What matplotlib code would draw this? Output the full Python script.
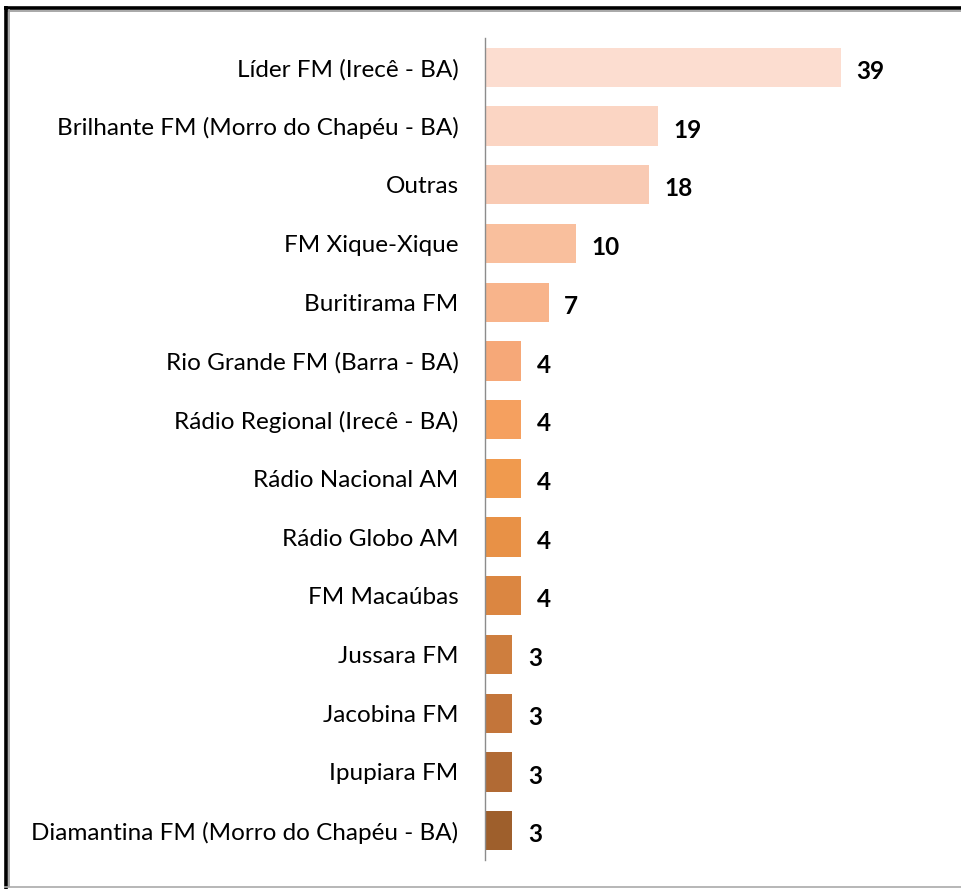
import matplotlib.pyplot as plt
from matplotlib.lines import Line2D

# Data
stations = [
    "Líder FM (Irecê - BA)",
    "Brilhante FM (Morro do Chapéu - BA)",
    "Outras",
    "FM Xique-Xique",
    "Buritirama FM",
    "Rio Grande FM (Barra - BA)",
    "Rádio Regional (Irecê - BA)",
    "Rádio Nacional AM",
    "Rádio Globo AM",
    "FM Macaúbas",
    "Jussara FM",
    "Jacobina FM",
    "Ipupiara FM",
    "Diamantina FM (Morro do Chapéu - BA)",
]
counts = [39, 19, 18, 10, 7, 4, 4, 4, 4, 4, 3, 3, 3, 3]
bar_colors = [
    "#FCDDD0", "#FBD5C3", "#F9CAB3", "#F9BF9D", "#F8B48B", "#F6A878",
    "#F5A05F", "#F09A4E", "#E89146", "#DB8641", "#CE7E3E", "#C3753A",
    "#B16A34", "#9E5F2C",
]

plt.rcParams["font.family"] = ["Lato", "DejaVu Sans"]

W, H = 962, 889
fig = plt.figure(figsize=(W / 100, H / 100), dpi=100)
ax = fig.add_axes([485 / W, 1 - 860 / H, (941 - 485) / W, (860 - 38) / H])

pos = list(range(len(stations)))
ax.barh(pos, counts, height=0.67, color=bar_colors)

for y, v in zip(pos, counts):
    ax.text(v + 1.7, y + 0.07, str(v), ha="left", va="center",
            fontsize=17.5, fontweight="bold", color="#000000")

ax.set_yticks(pos)
ax.set_yticklabels(stations, fontsize=17.5)
ax.set_ylim(len(stations) - 0.5, -0.5)
ax.set_xlim(0, 50)
ax.tick_params(axis="y", length=0, pad=19)
ax.set_xticks([])
for side in ["top", "right", "bottom"]:
    ax.spines[side].set_visible(False)
ax.spines["left"].set_color("#8C8C8C")
ax.spines["left"].set_linewidth(1)

# Frame around the picture (black top/left edge, grey shadow)
def fx(px):
    return px / W

def fy(py):
    return 1 - py / H

frame = dict(solid_capstyle="butt")
fig.add_artist(Line2D([fx(4), fx(962)], [fy(7.5), fy(7.5)], color="black", lw=2.6, **frame))
fig.add_artist(Line2D([fx(7), fx(962)], [fy(10.5), fy(10.5)], color="#9A9A9A", lw=1.2, **frame))
fig.add_artist(Line2D([fx(5.5), fx(5.5)], [fy(6), fy(889)], color="black", lw=2.6, **frame))
fig.add_artist(Line2D([fx(8.5), fx(8.5)], [fy(9), fy(887)], color="#9A9A9A", lw=1.2, **frame))
fig.add_artist(Line2D([fx(4), fx(962)], [fy(887), fy(887)], color="#AAAAAA", lw=1.2, **frame))

fig.savefig("out.png", dpi=100)
